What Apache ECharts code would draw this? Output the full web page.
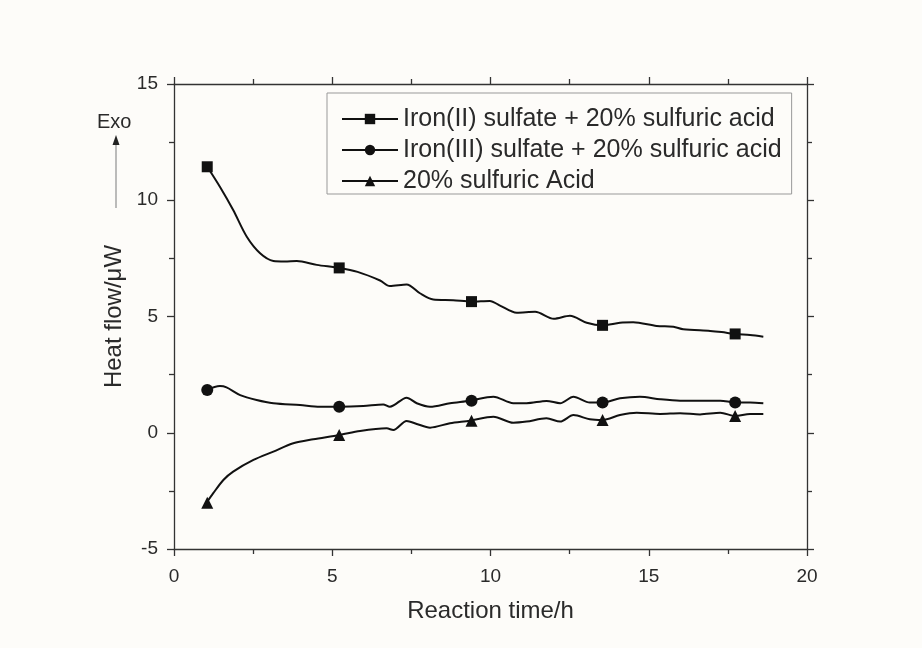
<!DOCTYPE html>
<html>
<head>
<meta charset="utf-8">
<script src="https://cdn.jsdelivr.net/npm/echarts@6/dist/echarts.min.js"></script>
<style>
html,body{margin:0;padding:0;background:#fdfcf9;}
#chart{width:922px;height:648px;}
</style>
</head>
<body>
<div id="chart"></div>
<script>
// Series names
const seriesNames = [
  'Iron(II) sulfate + 20% sulfuric acid',
  'Iron(III) sulfate + 20% sulfuric acid',
  '20% sulfuric Acid'
];

// Curve 1: Iron(II) sulfate + 20% sulfuric acid
const ironIIx = [1.05, 1.45, 1.87, 2.30, 2.72, 3.14, 3.50, 3.88, 4.51, 5.22, 5.80, 6.51, 6.82, 7.35, 7.77, 8.19, 8.82, 9.40, 9.98, 10.30, 10.83, 11.41, 12.00, 12.51, 13.04, 13.54, 14.09, 14.51, 15.25, 15.78, 16.09, 16.94, 17.30, 17.73, 18.20, 18.62];
const ironIIy = [11.44, 10.58, 9.58, 8.43, 7.72, 7.39, 7.37, 7.39, 7.22, 7.09, 6.92, 6.55, 6.31, 6.38, 6.00, 5.73, 5.70, 5.64, 5.67, 5.47, 5.16, 5.20, 4.90, 5.03, 4.73, 4.62, 4.73, 4.75, 4.59, 4.56, 4.45, 4.38, 4.33, 4.25, 4.20, 4.13];

// Curve 2: Iron(III) sulfate + 20% sulfuric acid
const ironIIIx = [1.03, 1.45, 1.66, 2.09, 2.61, 3.14, 3.98, 4.61, 5.22, 5.98, 6.61, 6.82, 7.35, 7.67, 8.09, 8.72, 9.35, 10.09, 10.72, 11.14, 11.77, 12.20, 12.62, 13.14, 13.54, 14.09, 14.72, 15.36, 15.99, 16.62, 17.26, 17.73, 18.20, 18.62];
const ironIIIy = [1.84, 2.01, 1.95, 1.62, 1.41, 1.27, 1.19, 1.12, 1.12, 1.15, 1.22, 1.12, 1.51, 1.27, 1.12, 1.27, 1.38, 1.55, 1.27, 1.27, 1.37, 1.27, 1.55, 1.30, 1.30, 1.48, 1.55, 1.44, 1.38, 1.38, 1.38, 1.30, 1.30, 1.27];

// Curve 3: 20% sulfuric Acid
const acidX = [1.03, 1.24, 1.56, 1.87, 2.51, 3.14, 3.77, 4.40, 5.22, 5.88, 6.72, 6.93, 7.35, 7.67, 8.09, 8.72, 9.35, 10.09, 10.72, 11.14, 11.77, 12.20, 12.62, 13.14, 13.54, 14.09, 14.62, 15.36, 15.99, 16.62, 17.26, 17.73, 18.20, 18.62];
const acidY = [-3.01, -2.60, -2.03, -1.67, -1.17, -0.81, -0.45, -0.28, -0.10, 0.08, 0.19, 0.12, 0.51, 0.38, 0.22, 0.41, 0.52, 0.69, 0.43, 0.48, 0.62, 0.48, 0.76, 0.58, 0.55, 0.76, 0.86, 0.81, 0.84, 0.79, 0.86, 0.72, 0.81, 0.81];

// Marker positions
const markerX = [1.05, 5.22, 9.40, 13.54, 17.73];
const markerIronII = [11.44, 7.09, 5.64, 4.62, 4.25];
const markerIronIII = [1.84, 1.12, 1.38, 1.30, 1.30];
const markerAcid = [-3.01, -0.10, 0.52, 0.55, 0.72];

// Axis ticks
const xTicks = [0, 5, 10, 15, 20];
const yTicks = [-5, 0, 5, 10, 15];

const zip = (xs, ys) => xs.map((x, i) => [x, ys[i]]);
const FONT = 'Liberation Sans, Arial, sans-serif';
const TXT = '#2a2a2a';
const LINE = '#111';

const axisCommon = {
  axisLine: { show: true, onZero: false, lineStyle: { color: '#333', width: 1.3 } },
  axisTick: { show: true, inside: false, length: 7, lineStyle: { color: '#333', width: 1.3 } },
  minorTick: { show: true, splitNumber: 2, length: 5, lineStyle: { color: '#333', width: 1.3 } },
  splitLine: { show: false },
  minorSplitLine: { show: false }
};

const lineSeries = (name, xs, ys, sym) => ({
  name, type: 'line', xAxisIndex: 0, yAxisIndex: 0,
  data: zip(xs, ys), smooth: 0.3, symbol: sym, showSymbol: false,
  lineStyle: { color: LINE, width: 2 }, itemStyle: { color: LINE },
  emphasis: { disabled: true }, z: 2
});
const markerSeries = (name, ys, sym, size) => ({
  name: name + ' markers', type: 'scatter', xAxisIndex: 0, yAxisIndex: 0,
  data: zip(markerX, ys), symbol: sym, symbolSize: size,
  itemStyle: { color: LINE, opacity: 1 }, emphasis: { disabled: true }, z: 3
});

const chart = echarts.init(document.getElementById('chart'), null, { renderer: 'canvas' });
chart.setOption({
  backgroundColor: '#fdfcf9',
  animation: false,
  textStyle: { fontFamily: FONT },
  grid: { left: 174, right: 115, top: 84, bottom: 99, containLabel: false },
  legend: {
    data: seriesNames,
    orient: 'vertical',
    left: 327, top: 93,
    padding: [13, 10, 0, 14],
    itemWidth: 56, itemHeight: 13, itemGap: 5,
    borderColor: '#999', borderWidth: 1,
    textStyle: { fontSize: 25, color: TXT, fontFamily: FONT, lineHeight: 26 },
    selectedMode: false
  },
  xAxis: [
    Object.assign({}, axisCommon, {
      type: 'value', position: 'bottom', min: xTicks[0], max: xTicks[xTicks.length - 1], interval: 5,
      name: 'Reaction time/h', nameLocation: 'middle', nameGap: 50,
      nameTextStyle: { fontSize: 24, color: TXT, fontFamily: FONT },
      axisLabel: { show: true, margin: 18, fontSize: 19, color: TXT, fontFamily: FONT }
    }),
    Object.assign({}, axisCommon, {
      type: 'value', position: 'top', min: xTicks[0], max: xTicks[xTicks.length - 1], interval: 5,
      axisLabel: { show: false }
    })
  ],
  yAxis: [
    Object.assign({}, axisCommon, {
      type: 'value', position: 'left', min: yTicks[0], max: yTicks[yTicks.length - 1], interval: 5,
      name: 'Heat flow/\u03bcW', nameLocation: 'middle', nameGap: 40, nameRotate: 90,
      nameTextStyle: { fontSize: 24, color: TXT, fontFamily: FONT },
      axisLabel: { show: true, margin: 16, fontSize: 19, color: TXT, fontFamily: FONT }
    }),
    Object.assign({}, axisCommon, {
      type: 'value', position: 'right', min: yTicks[0], max: yTicks[yTicks.length - 1], interval: 5,
      axisLabel: { show: false }
    })
  ],
  graphic: [
    { type: 'text', left: 97, top: 112, style: { text: 'Exo', fontSize: 20, fill: TXT, fontFamily: FONT } },
    { type: 'line', shape: { x1: 116, y1: 208, x2: 116, y2: 143 }, style: { stroke: '#aaa', lineWidth: 1.6 } },
    { type: 'polygon', shape: { points: [[116, 135], [112.5, 145], [119.5, 145]] }, style: { fill: '#222' } }
  ],
  series: [
    lineSeries(seriesNames[0], ironIIx, ironIIy, 'rect'),
    lineSeries(seriesNames[1], ironIIIx, ironIIIy, 'circle'),
    lineSeries(seriesNames[2], acidX, acidY, 'triangle'),
    markerSeries(seriesNames[0], markerIronII, 'rect', 11),
    markerSeries(seriesNames[1], markerIronIII, 'circle', 12),
    markerSeries(seriesNames[2], markerAcid, 'triangle', 12)
  ]
});
</script>
</body>
</html>
